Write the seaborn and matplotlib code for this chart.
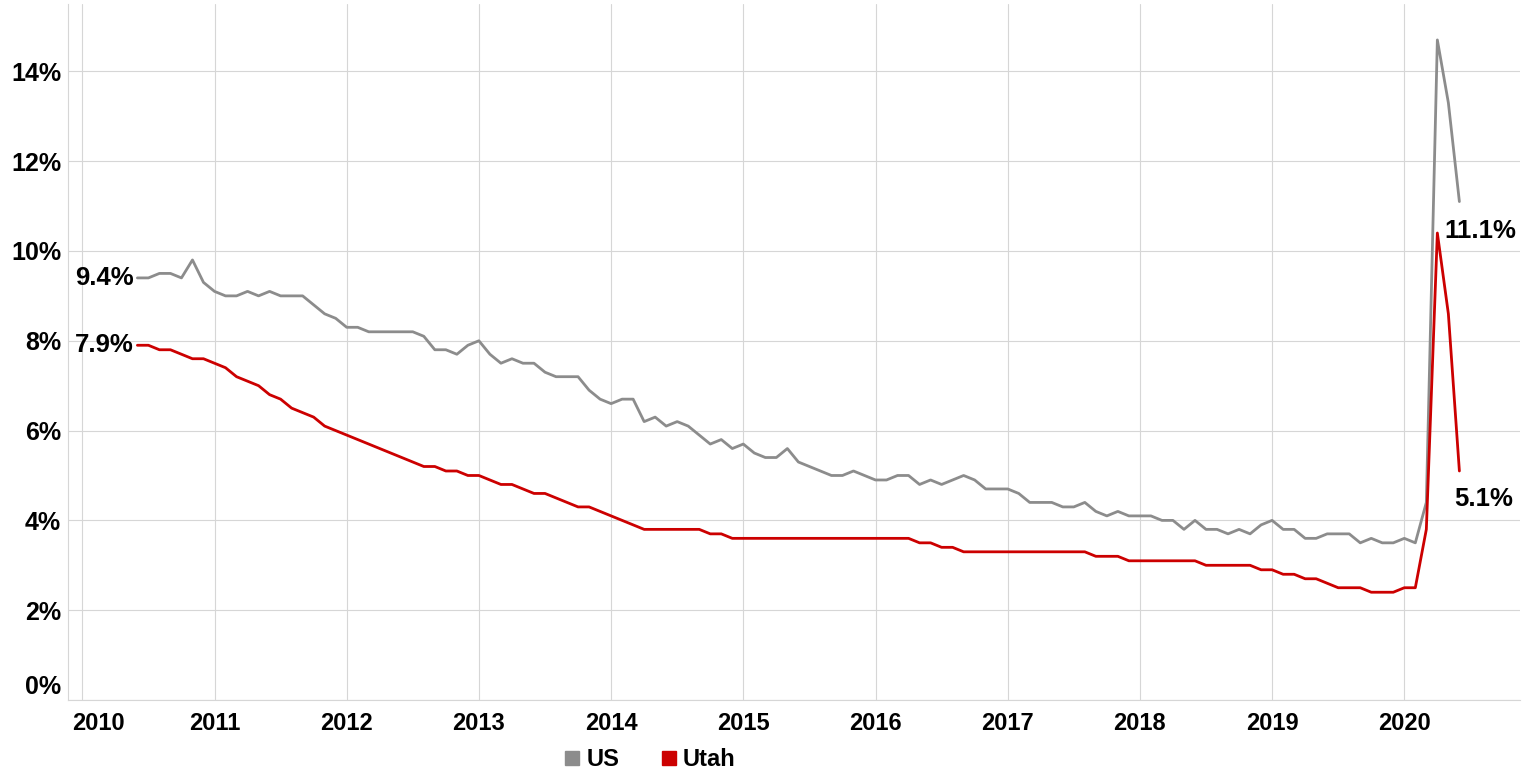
import matplotlib
matplotlib.use('Agg')
import matplotlib.pyplot as plt
import matplotlib.transforms as mtransforms
from matplotlib.lines import Line2D
import numpy as np
import pandas as pd
import seaborn as sns

# monthly unemployment rate, Jun 2010 .. Jun 2020
start_year = 2010
start_month = 6

us_rate = [
    9.4, 9.4, 9.5, 9.5, 9.4, 9.8, 9.3,
    9.1, 9.0, 9.0, 9.1, 9.0, 9.1, 9.0, 9.0, 9.0, 8.8, 8.6, 8.5,
    8.3, 8.3, 8.2, 8.2, 8.2, 8.2, 8.2, 8.1, 7.8, 7.8, 7.7, 7.9,
    8.0, 7.7, 7.5, 7.6, 7.5, 7.5, 7.3, 7.2, 7.2, 7.2, 6.9, 6.7,
    6.6, 6.7, 6.7, 6.2, 6.3, 6.1, 6.2, 6.1, 5.9, 5.7, 5.8, 5.6,
    5.7, 5.5, 5.4, 5.4, 5.6, 5.3, 5.2, 5.1, 5.0, 5.0, 5.1, 5.0,
    4.9, 4.9, 5.0, 5.0, 4.8, 4.9, 4.8, 4.9, 5.0, 4.9, 4.7, 4.7,
    4.7, 4.6, 4.4, 4.4, 4.4, 4.3, 4.3, 4.4, 4.2, 4.1, 4.2, 4.1,
    4.1, 4.1, 4.0, 4.0, 3.8, 4.0, 3.8, 3.8, 3.7, 3.8, 3.7, 3.9,
    4.0, 3.8, 3.8, 3.6, 3.6, 3.7, 3.7, 3.7, 3.5, 3.6, 3.5, 3.5,
    3.6, 3.5, 4.4, 14.7, 13.3, 11.1,
]

utah_rate = [
    7.9, 7.9, 7.8, 7.8, 7.7, 7.6, 7.6,
    7.5, 7.4, 7.2, 7.1, 7.0, 6.8, 6.7, 6.5, 6.4, 6.3, 6.1, 6.0,
    5.9, 5.8, 5.7, 5.6, 5.5, 5.4, 5.3, 5.2, 5.2, 5.1, 5.1, 5.0,
    5.0, 4.9, 4.8, 4.8, 4.7, 4.6, 4.6, 4.5, 4.4, 4.3, 4.3, 4.2,
    4.1, 4.0, 3.9, 3.8, 3.8, 3.8, 3.8, 3.8, 3.8, 3.7, 3.7, 3.6,
    3.6, 3.6, 3.6, 3.6, 3.6, 3.6, 3.6, 3.6, 3.6, 3.6, 3.6, 3.6,
    3.6, 3.6, 3.6, 3.6, 3.5, 3.5, 3.4, 3.4, 3.3, 3.3, 3.3, 3.3,
    3.3, 3.3, 3.3, 3.3, 3.3, 3.3, 3.3, 3.3, 3.2, 3.2, 3.2, 3.1,
    3.1, 3.1, 3.1, 3.1, 3.1, 3.1, 3.0, 3.0, 3.0, 3.0, 3.0, 2.9,
    2.9, 2.8, 2.8, 2.7, 2.7, 2.6, 2.5, 2.5, 2.5, 2.4, 2.4, 2.4,
    2.5, 2.5, 3.8, 10.4, 8.6, 5.1,
]

series_names = ['US', 'Utah']
series_colors = {'US': '#8c8c8c', 'Utah': '#cc0000'}
year_ticks = list(range(2010, 2021))
pct_ticks = list(range(0, 15, 2))

n = len(us_rate)
x = start_year + (start_month - 1 + np.arange(n)) / 12.0
df = pd.DataFrame({
    'x': np.concatenate([x, x]),
    'rate': us_rate + utah_rate,
    'series': ['US'] * n + ['Utah'] * n,
})

sns.set_style('white')
plt.rcParams['font.family'] = ['Liberation Sans', 'DejaVu Sans']
plt.rcParams['font.weight'] = 'bold'
plt.rcParams['text.color'] = 'black'

W, H = 1522, 771
fig = plt.figure(figsize=(W / 100, H / 100), dpi=100)
ax = fig.add_axes([68 / W, 71 / H, (1520 - 68) / W, 696 / H])

sns.lineplot(data=df, x='x', y='rate', hue='series', palette=series_colors,
             linewidth=2.0, ax=ax, legend=False)

ax.set_xlim(2010 - 14.3 / 132.2, 2010 + (1520 - 82.3) / 132.2)
ax.set_ylim(0, 15.5)
ax.set_xticks(year_ticks)
ax.set_xticklabels([str(y) for y in year_ticks])
ax.set_yticks(pct_ticks)
ax.set_yticklabels([f'{p}%' for p in pct_ticks])
ax.set_xlabel('')
ax.set_ylabel('')

ax.grid(True, color='#d6d6d6', linewidth=0.8)
ax.set_axisbelow(True)
for side in ['top', 'right']:
    ax.spines[side].set_visible(False)
for side in ['left', 'bottom']:
    ax.spines[side].set_color('#d6d6d6')
    ax.spines[side].set_linewidth(0.8)
ax.tick_params(axis='x', length=0, labelsize=17, colors='black', pad=9)
ax.tick_params(axis='y', length=0, labelsize=18, colors='black', pad=5)

# first labels are nudged inside like the original
ylab = ax.get_yticklabels()[0]
ylab.set_transform(ylab.get_transform() + mtransforms.ScaledTranslation(0, 0.15, fig.dpi_scale_trans))
xlab = ax.get_xticklabels()[0]
xlab.set_transform(xlab.get_transform() + mtransforms.ScaledTranslation(0.16, 0, fig.dpi_scale_trans))

# end labels
lab_kw = dict(textcoords='offset pixels', va='center', fontsize=18.5, color='black')
ax.annotate(f'{us_rate[0]:.1f}%', xy=(x[0], us_rate[0]), xytext=(-4, 0), ha='right', **lab_kw)
ax.annotate(f'{utah_rate[0]:.1f}%', xy=(x[0], utah_rate[0]), xytext=(-4, 0), ha='right', **lab_kw)
ax.annotate(f'{us_rate[-1]:.1f}%', xy=(x[-1], us_rate[-1]), xytext=(21, -29), ha='center', **lab_kw)
ax.annotate(f'{utah_rate[-1]:.1f}%', xy=(x[-1], utah_rate[-1]), xytext=(24, -28), ha='center', **lab_kw)

handles = [Line2D([], [], marker='s', linestyle='none', color=series_colors[s], markersize=10)
           for s in series_names]
fig.legend(handles, series_names, loc='center', bbox_to_anchor=(648 / W, 1 - 760 / H),
           ncol=2, frameon=False, fontsize=17, handletextpad=0.1, columnspacing=1.6,
           handlelength=1.0)

fig.savefig('out.png', dpi=100)
